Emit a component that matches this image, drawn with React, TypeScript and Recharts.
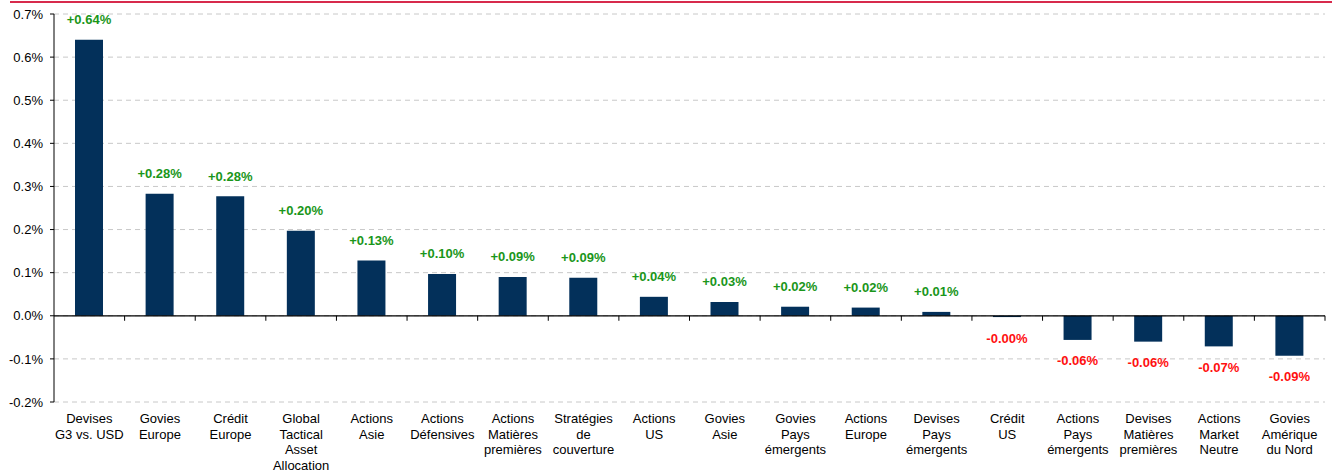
import { BarChart, Bar, XAxis, YAxis, CartesianGrid, ReferenceLine, LabelList } from 'recharts'

const categories = [
  'Devises\nG3 vs. USD',
  'Govies\nEurope',
  'Crédit\nEurope',
  'Global\nTactical\nAsset\nAllocation',
  'Actions\nAsie',
  'Actions\nDéfensives',
  'Actions\nMatières\npremières',
  'Stratégies\nde\ncouverture',
  'Actions\nUS',
  'Govies\nAsie',
  'Govies\nPays\némergents',
  'Actions\nEurope',
  'Devises\nPays\némergents',
  'Crédit\nUS',
  'Actions\nPays\némergents',
  'Devises\nMatières\npremières',
  'Actions\nMarket\nNeutre',
  'Govies\nAmérique\ndu Nord',
]

// contribution in %
const contributions = [
  0.64, 0.283, 0.277, 0.197, 0.128, 0.097, 0.09, 0.088, 0.044,
  0.032, 0.021, 0.019, 0.009, -0.003, -0.056, -0.06, -0.071, -0.093,
]

const yTicks = [-0.2, -0.1, 0, 0.1, 0.2, 0.3, 0.4, 0.5, 0.6, 0.7]

const data = categories.map((name, i) => ({ name, value: contributions[i] }))

const FONT = '"Liberation Sans", Arial, sans-serif'

function CategoryTick(props: any) {
  const { x, y, payload } = props
  const lines = String(payload.value).split('\n')
  return (
    <text x={x} y={y} textAnchor="middle" fontSize={13} fontFamily={FONT} fill="#000">
      {lines.map((line, i) => (
        <tspan key={i} x={x} dy={i === 0 ? 13 : 15.5}>
          {line}
        </tspan>
      ))}
    </text>
  )
}

function ValueLabel(props: any) {
  const { x, y, width, height, value } = props
  const top = Math.min(y, y + height)
  const bottom = Math.max(y, y + height)
  const positive = value >= 0
  const text = (positive ? '+' : '') + value.toFixed(2) + '%'
  return (
    <text
      x={x + width / 2}
      y={positive ? top - 20 : bottom + 21}
      textAnchor="middle"
      dominantBaseline="central"
      fontSize={13}
      fontWeight="bold"
      fontFamily={FONT}
      fill={positive ? '#1a961a' : '#ff1010'}
    >
      {text}
    </text>
  )
}

function ZeroLine(props: any) {
  const { x1, x2, y1 } = props
  const step = (x2 - x1) / categories.length
  return (
    <g>
      <line x1={x1} x2={x2} y1={y1} y2={y1} stroke="#000" strokeWidth={1.3} />
      {categories.map((_, i) => (
        <line
          key={i}
          x1={x1 + step * (i + 1)}
          x2={x1 + step * (i + 1)}
          y1={y1}
          y2={y1 + 5}
          stroke="#000"
          strokeWidth={1}
        />
      ))}
    </g>
  )
}

export default function App() {
  return (
    <div style={{ position: 'absolute', left: 0, top: 0, width: 1332, height: 471, background: '#fff' }}>
      <div style={{ position: 'absolute', left: 10, top: 1, width: 1322, height: 2, background: '#d72a4c' }} />
      <BarChart
        width={1332}
        height={471}
        data={data}
        margin={{ top: 14, right: 7, bottom: 0, left: 0 }}
      >
        <CartesianGrid vertical={false} stroke="#c8c8c8" strokeDasharray="5 4" />
        <XAxis
          dataKey="name"
          interval={0}
          axisLine={false}
          tickLine={false}
          tick={<CategoryTick />}
          height={69}
        />
        <YAxis
          width={54}
          domain={[-0.2, 0.7]}
          ticks={yTicks}
          interval={0}
          tickFormatter={(v: number) => `${v.toFixed(1)}%`}
          tick={{ fontSize: 13, fill: '#000', fontFamily: FONT }}
          axisLine={{ stroke: '#000' }}
          tickLine={{ stroke: '#000' }}
          tickSize={4}
          tickMargin={7}
        />
        <ReferenceLine y={0} shape={<ZeroLine />} />
        <Bar dataKey="value" fill="#03305a" barSize={28} isAnimationActive={false}>
          <LabelList dataKey="value" content={<ValueLabel />} />
        </Bar>
      </BarChart>
    </div>
  )
}
